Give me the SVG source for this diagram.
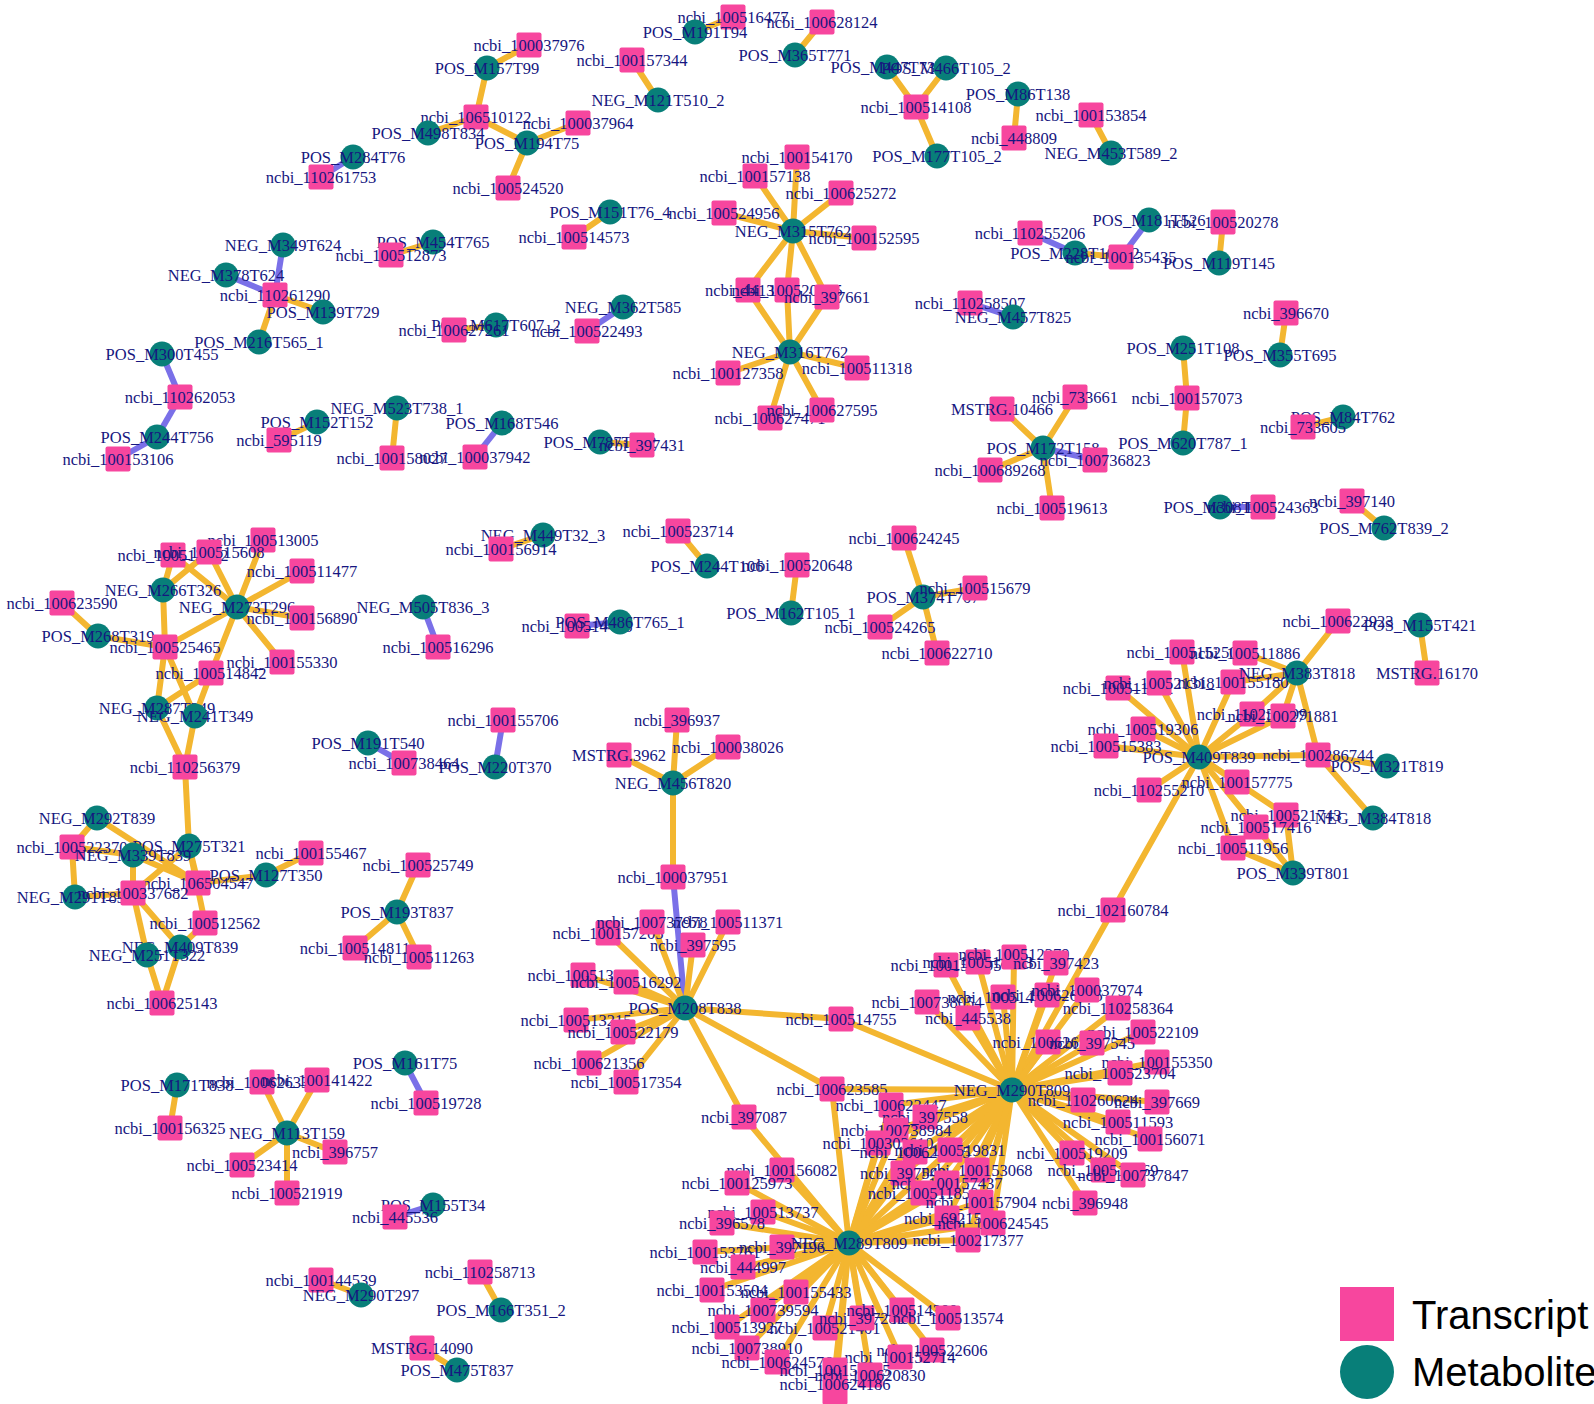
<svg xmlns="http://www.w3.org/2000/svg" xmlns:xlink="http://www.w3.org/1999/xlink" width="1594" height="1404" viewBox="0 0 1594 1404">
<style>
.eo{stroke:#F3B630;stroke-width:6;stroke-linecap:round}
.eb{stroke:#7A70E8;stroke-width:6;stroke-linecap:round}
text{font-family:"Liberation Serif","Times New Roman",serif;font-size:16.5px;fill:#161680;text-anchor:middle}
.lg{font-family:"Liberation Sans",Arial,sans-serif;font-size:40px;fill:#000;text-anchor:start}
</style>
<defs>
<rect id="sq" x="-12.5" y="-12.5" width="25" height="25" rx="2" fill="#F7469E"/>
<circle id="ci" r="12.5" fill="#087F79"/>
</defs>
<rect width="1594" height="1404" fill="#fff"/>
<g id="edges">
<line class="eb" x1="321" y1="177" x2="353" y2="157"/>
<line class="eb" x1="283" y1="245" x2="275" y2="295"/>
<line class="eb" x1="226" y1="275" x2="275" y2="295"/>
<line class="eb" x1="162" y1="354" x2="180" y2="397"/>
<line class="eb" x1="180" y1="397" x2="157" y2="437"/>
<line class="eb" x1="157" y1="437" x2="118" y2="459"/>
<line class="eb" x1="502" y1="423" x2="475" y2="457"/>
<line class="eb" x1="623" y1="307" x2="587" y2="331"/>
<line class="eb" x1="1030" y1="233" x2="1075" y2="253"/>
<line class="eb" x1="1121" y1="257" x2="1149" y2="220"/>
<line class="eb" x1="970" y1="303" x2="1013" y2="317"/>
<line class="eb" x1="1043" y1="448" x2="1095" y2="460"/>
<line class="eb" x1="1220" y1="507" x2="1263" y2="507"/>
<line class="eb" x1="423" y1="607" x2="438" y2="647"/>
<line class="eb" x1="577" y1="626" x2="620" y2="622"/>
<line class="eb" x1="368" y1="743" x2="404" y2="763"/>
<line class="eb" x1="503" y1="720" x2="495" y2="767"/>
<line class="eb" x1="673" y1="877" x2="685" y2="1008"/>
<line class="eb" x1="405" y1="1063" x2="426" y2="1103"/>
<line class="eb" x1="433" y1="1205" x2="395" y2="1217"/>
<line class="eo" x1="275" y1="295" x2="323" y2="312"/>
<line class="eo" x1="275" y1="295" x2="259" y2="342"/>
<line class="eo" x1="317" y1="422" x2="279" y2="440"/>
<line class="eo" x1="397" y1="408" x2="392" y2="458"/>
<line class="eo" x1="433" y1="242" x2="391" y2="255"/>
<line class="eo" x1="496" y1="325" x2="454" y2="330"/>
<line class="eo" x1="600" y1="442" x2="642" y2="445"/>
<line class="eo" x1="733" y1="17" x2="695" y2="32"/>
<line class="eo" x1="822" y1="22" x2="795" y2="55"/>
<line class="eo" x1="529" y1="45" x2="487" y2="68"/>
<line class="eo" x1="487" y1="68" x2="476" y2="117"/>
<line class="eo" x1="476" y1="117" x2="428" y2="133"/>
<line class="eo" x1="476" y1="117" x2="527" y2="143"/>
<line class="eo" x1="527" y1="143" x2="578" y2="123"/>
<line class="eo" x1="527" y1="143" x2="508" y2="188"/>
<line class="eo" x1="632" y1="60" x2="658" y2="100"/>
<line class="eo" x1="610" y1="212" x2="574" y2="237"/>
<line class="eo" x1="793" y1="231" x2="797" y2="157"/>
<line class="eo" x1="793" y1="231" x2="755" y2="176"/>
<line class="eo" x1="793" y1="231" x2="841" y2="193"/>
<line class="eo" x1="793" y1="231" x2="724" y2="213"/>
<line class="eo" x1="793" y1="231" x2="864" y2="238"/>
<line class="eo" x1="793" y1="231" x2="748" y2="290"/>
<line class="eo" x1="793" y1="231" x2="787" y2="290"/>
<line class="eo" x1="793" y1="231" x2="827" y2="297"/>
<line class="eo" x1="790" y1="352" x2="748" y2="290"/>
<line class="eo" x1="790" y1="352" x2="787" y2="290"/>
<line class="eo" x1="790" y1="352" x2="827" y2="297"/>
<line class="eo" x1="790" y1="352" x2="728" y2="373"/>
<line class="eo" x1="790" y1="352" x2="857" y2="368"/>
<line class="eo" x1="790" y1="352" x2="770" y2="418"/>
<line class="eo" x1="790" y1="352" x2="822" y2="410"/>
<line class="eo" x1="887" y1="67" x2="916" y2="107"/>
<line class="eo" x1="946" y1="68" x2="916" y2="107"/>
<line class="eo" x1="916" y1="107" x2="937" y2="156"/>
<line class="eo" x1="1018" y1="94" x2="1014" y2="138"/>
<line class="eo" x1="1091" y1="115" x2="1111" y2="153"/>
<line class="eo" x1="1075" y1="253" x2="1121" y2="257"/>
<line class="eo" x1="1223" y1="222" x2="1219" y2="263"/>
<line class="eo" x1="1183" y1="348" x2="1187" y2="398"/>
<line class="eo" x1="1187" y1="398" x2="1183" y2="443"/>
<line class="eo" x1="1286" y1="313" x2="1280" y2="355"/>
<line class="eo" x1="1343" y1="417" x2="1303" y2="427"/>
<line class="eo" x1="1043" y1="448" x2="1002" y2="409"/>
<line class="eo" x1="1043" y1="448" x2="1075" y2="397"/>
<line class="eo" x1="1043" y1="448" x2="990" y2="470"/>
<line class="eo" x1="1043" y1="448" x2="1052" y2="508"/>
<line class="eo" x1="1352" y1="501" x2="1384" y2="528"/>
<line class="eo" x1="1420" y1="625" x2="1427" y2="673"/>
<line class="eo" x1="1297" y1="673" x2="1338" y2="621"/>
<line class="eo" x1="1297" y1="673" x2="1245" y2="653"/>
<line class="eo" x1="1297" y1="673" x2="1233" y2="682"/>
<line class="eo" x1="1297" y1="673" x2="1252" y2="714"/>
<line class="eo" x1="1297" y1="673" x2="1283" y2="716"/>
<line class="eo" x1="1297" y1="673" x2="1318" y2="755"/>
<line class="eo" x1="1199" y1="757" x2="1182" y2="652"/>
<line class="eo" x1="1199" y1="757" x2="1159" y2="683"/>
<line class="eo" x1="1199" y1="757" x2="1118" y2="688"/>
<line class="eo" x1="1199" y1="757" x2="1143" y2="729"/>
<line class="eo" x1="1199" y1="757" x2="1106" y2="746"/>
<line class="eo" x1="1199" y1="757" x2="1149" y2="790"/>
<line class="eo" x1="1199" y1="757" x2="1237" y2="782"/>
<line class="eo" x1="1199" y1="757" x2="1286" y2="815"/>
<line class="eo" x1="1199" y1="757" x2="1256" y2="827"/>
<line class="eo" x1="1199" y1="757" x2="1233" y2="848"/>
<line class="eo" x1="1199" y1="757" x2="1318" y2="755"/>
<line class="eo" x1="1199" y1="757" x2="1233" y2="682"/>
<line class="eo" x1="1199" y1="757" x2="1252" y2="714"/>
<line class="eo" x1="1199" y1="757" x2="1283" y2="716"/>
<line class="eo" x1="1199" y1="757" x2="1113" y2="910"/>
<line class="eo" x1="1318" y1="755" x2="1387" y2="766"/>
<line class="eo" x1="1318" y1="755" x2="1373" y2="818"/>
<line class="eo" x1="1293" y1="873" x2="1286" y2="815"/>
<line class="eo" x1="1293" y1="873" x2="1256" y2="827"/>
<line class="eo" x1="1293" y1="873" x2="1233" y2="848"/>
<line class="eo" x1="1113" y1="910" x2="1012" y2="1090"/>
<line class="eo" x1="163" y1="590" x2="173" y2="555"/>
<line class="eo" x1="163" y1="590" x2="209" y2="552"/>
<line class="eo" x1="163" y1="590" x2="165" y2="647"/>
<line class="eo" x1="237" y1="607" x2="173" y2="555"/>
<line class="eo" x1="237" y1="607" x2="209" y2="552"/>
<line class="eo" x1="237" y1="607" x2="263" y2="540"/>
<line class="eo" x1="237" y1="607" x2="302" y2="571"/>
<line class="eo" x1="237" y1="607" x2="302" y2="618"/>
<line class="eo" x1="237" y1="607" x2="282" y2="662"/>
<line class="eo" x1="237" y1="607" x2="165" y2="647"/>
<line class="eo" x1="237" y1="607" x2="211" y2="673"/>
<line class="eo" x1="62" y1="603" x2="98" y2="636"/>
<line class="eo" x1="98" y1="636" x2="165" y2="647"/>
<line class="eo" x1="165" y1="647" x2="157" y2="708"/>
<line class="eo" x1="165" y1="647" x2="195" y2="716"/>
<line class="eo" x1="211" y1="673" x2="157" y2="708"/>
<line class="eo" x1="211" y1="673" x2="195" y2="716"/>
<line class="eo" x1="157" y1="708" x2="185" y2="767"/>
<line class="eo" x1="195" y1="716" x2="185" y2="767"/>
<line class="eo" x1="185" y1="767" x2="189" y2="846"/>
<line class="eo" x1="97" y1="818" x2="72" y2="847"/>
<line class="eo" x1="97" y1="818" x2="198" y2="883"/>
<line class="eo" x1="189" y1="846" x2="198" y2="883"/>
<line class="eo" x1="189" y1="846" x2="133" y2="893"/>
<line class="eo" x1="189" y1="846" x2="205" y2="923"/>
<line class="eo" x1="133" y1="855" x2="72" y2="847"/>
<line class="eo" x1="133" y1="855" x2="198" y2="883"/>
<line class="eo" x1="133" y1="855" x2="133" y2="893"/>
<line class="eo" x1="75" y1="897" x2="72" y2="847"/>
<line class="eo" x1="75" y1="897" x2="133" y2="893"/>
<line class="eo" x1="266" y1="875" x2="198" y2="883"/>
<line class="eo" x1="266" y1="875" x2="311" y2="853"/>
<line class="eo" x1="180" y1="947" x2="133" y2="893"/>
<line class="eo" x1="180" y1="947" x2="205" y2="923"/>
<line class="eo" x1="180" y1="947" x2="162" y2="1003"/>
<line class="eo" x1="147" y1="955" x2="133" y2="893"/>
<line class="eo" x1="147" y1="955" x2="162" y2="1003"/>
<line class="eo" x1="543" y1="535" x2="501" y2="549"/>
<line class="eo" x1="678" y1="531" x2="707" y2="566"/>
<line class="eo" x1="797" y1="565" x2="791" y2="613"/>
<line class="eo" x1="923" y1="597" x2="904" y2="538"/>
<line class="eo" x1="923" y1="597" x2="975" y2="588"/>
<line class="eo" x1="923" y1="597" x2="880" y2="627"/>
<line class="eo" x1="923" y1="597" x2="937" y2="653"/>
<line class="eo" x1="673" y1="783" x2="677" y2="720"/>
<line class="eo" x1="673" y1="783" x2="619" y2="755"/>
<line class="eo" x1="673" y1="783" x2="728" y2="747"/>
<line class="eo" x1="673" y1="783" x2="673" y2="877"/>
<line class="eo" x1="397" y1="912" x2="418" y2="865"/>
<line class="eo" x1="397" y1="912" x2="355" y2="948"/>
<line class="eo" x1="397" y1="912" x2="419" y2="957"/>
<line class="eo" x1="685" y1="1008" x2="608" y2="933"/>
<line class="eo" x1="685" y1="1008" x2="652" y2="922"/>
<line class="eo" x1="685" y1="1008" x2="728" y2="922"/>
<line class="eo" x1="685" y1="1008" x2="693" y2="945"/>
<line class="eo" x1="685" y1="1008" x2="583" y2="975"/>
<line class="eo" x1="685" y1="1008" x2="626" y2="982"/>
<line class="eo" x1="685" y1="1008" x2="576" y2="1020"/>
<line class="eo" x1="685" y1="1008" x2="623" y2="1032"/>
<line class="eo" x1="685" y1="1008" x2="589" y2="1063"/>
<line class="eo" x1="685" y1="1008" x2="626" y2="1082"/>
<line class="eo" x1="685" y1="1008" x2="744" y2="1117"/>
<line class="eo" x1="685" y1="1008" x2="841" y2="1019"/>
<line class="eo" x1="685" y1="1008" x2="832" y2="1089"/>
<line class="eo" x1="744" y1="1117" x2="849" y2="1243"/>
<line class="eo" x1="841" y1="1019" x2="1012" y2="1090"/>
<line class="eo" x1="832" y1="1089" x2="1012" y2="1090"/>
<line class="eo" x1="832" y1="1089" x2="849" y2="1243"/>
<line class="eo" x1="480" y1="1272" x2="501" y2="1310"/>
<line class="eo" x1="422" y1="1348" x2="457" y2="1370"/>
<line class="eo" x1="177" y1="1085" x2="170" y2="1128"/>
<line class="eo" x1="287" y1="1133" x2="262" y2="1082"/>
<line class="eo" x1="287" y1="1133" x2="317" y2="1080"/>
<line class="eo" x1="287" y1="1133" x2="335" y2="1152"/>
<line class="eo" x1="287" y1="1133" x2="242" y2="1165"/>
<line class="eo" x1="287" y1="1133" x2="287" y2="1193"/>
<line class="eo" x1="321" y1="1280" x2="361" y2="1295"/>
<g id="hub290">
<line class="eo" x1="1012" y1="1090" x2="946" y2="965"/>
<line class="eo" x1="1012" y1="1090" x2="978" y2="962"/>
<line class="eo" x1="1012" y1="1090" x2="1014" y2="957"/>
<line class="eo" x1="1012" y1="1090" x2="1056" y2="963"/>
<line class="eo" x1="1012" y1="1090" x2="927" y2="1002"/>
<line class="eo" x1="1012" y1="1090" x2="1003" y2="997"/>
<line class="eo" x1="1012" y1="1090" x2="1047" y2="995"/>
<line class="eo" x1="1012" y1="1090" x2="1087" y2="990"/>
<line class="eo" x1="1012" y1="1090" x2="968" y2="1018"/>
<line class="eo" x1="1012" y1="1090" x2="1118" y2="1008"/>
<line class="eo" x1="1012" y1="1090" x2="1143" y2="1032"/>
<line class="eo" x1="1012" y1="1090" x2="1048" y2="1042"/>
<line class="eo" x1="1012" y1="1090" x2="1092" y2="1043"/>
<line class="eo" x1="1012" y1="1090" x2="1157" y2="1062"/>
<line class="eo" x1="1012" y1="1090" x2="1120" y2="1073"/>
<line class="eo" x1="1012" y1="1090" x2="1083" y2="1100"/>
<line class="eo" x1="1012" y1="1090" x2="1157" y2="1102"/>
<line class="eo" x1="1012" y1="1090" x2="1118" y2="1122"/>
<line class="eo" x1="1012" y1="1090" x2="1150" y2="1139"/>
<line class="eo" x1="1012" y1="1090" x2="1072" y2="1153"/>
<line class="eo" x1="1012" y1="1090" x2="1103" y2="1170"/>
<line class="eo" x1="1012" y1="1090" x2="1133" y2="1175"/>
<line class="eo" x1="1012" y1="1090" x2="1085" y2="1203"/>
<line class="eo" x1="1012" y1="1090" x2="891" y2="1105"/>
<line class="eo" x1="1012" y1="1090" x2="925" y2="1117"/>
<line class="eo" x1="1012" y1="1090" x2="896" y2="1130"/>
<line class="eo" x1="1012" y1="1090" x2="878" y2="1143"/>
<line class="eo" x1="1012" y1="1090" x2="915" y2="1152"/>
<line class="eo" x1="1012" y1="1090" x2="950" y2="1150"/>
<line class="eo" x1="1012" y1="1090" x2="903" y2="1173"/>
<line class="eo" x1="1012" y1="1090" x2="977" y2="1170"/>
<line class="eo" x1="1012" y1="1090" x2="947" y2="1183"/>
<line class="eo" x1="1012" y1="1090" x2="923" y2="1193"/>
<line class="eo" x1="1012" y1="1090" x2="981" y2="1202"/>
<line class="eo" x1="1012" y1="1090" x2="947" y2="1218"/>
<line class="eo" x1="1012" y1="1090" x2="993" y2="1223"/>
<line class="eo" x1="1012" y1="1090" x2="968" y2="1240"/>
</g>
<g id="hub289">
<line class="eo" x1="849" y1="1243" x2="891" y2="1105"/>
<line class="eo" x1="849" y1="1243" x2="925" y2="1117"/>
<line class="eo" x1="849" y1="1243" x2="896" y2="1130"/>
<line class="eo" x1="849" y1="1243" x2="878" y2="1143"/>
<line class="eo" x1="849" y1="1243" x2="915" y2="1152"/>
<line class="eo" x1="849" y1="1243" x2="950" y2="1150"/>
<line class="eo" x1="849" y1="1243" x2="903" y2="1173"/>
<line class="eo" x1="849" y1="1243" x2="977" y2="1170"/>
<line class="eo" x1="849" y1="1243" x2="947" y2="1183"/>
<line class="eo" x1="849" y1="1243" x2="923" y2="1193"/>
<line class="eo" x1="849" y1="1243" x2="981" y2="1202"/>
<line class="eo" x1="849" y1="1243" x2="947" y2="1218"/>
<line class="eo" x1="849" y1="1243" x2="993" y2="1223"/>
<line class="eo" x1="849" y1="1243" x2="968" y2="1240"/>
<line class="eo" x1="849" y1="1243" x2="782" y2="1170"/>
<line class="eo" x1="849" y1="1243" x2="737" y2="1183"/>
<line class="eo" x1="849" y1="1243" x2="763" y2="1212"/>
<line class="eo" x1="849" y1="1243" x2="722" y2="1223"/>
<line class="eo" x1="849" y1="1243" x2="705" y2="1252"/>
<line class="eo" x1="849" y1="1243" x2="782" y2="1247"/>
<line class="eo" x1="849" y1="1243" x2="743" y2="1267"/>
<line class="eo" x1="849" y1="1243" x2="712" y2="1290"/>
<line class="eo" x1="849" y1="1243" x2="763" y2="1310"/>
<line class="eo" x1="849" y1="1243" x2="796" y2="1292"/>
<line class="eo" x1="849" y1="1243" x2="727" y2="1327"/>
<line class="eo" x1="849" y1="1243" x2="825" y2="1328"/>
<line class="eo" x1="849" y1="1243" x2="862" y2="1318"/>
<line class="eo" x1="849" y1="1243" x2="902" y2="1310"/>
<line class="eo" x1="849" y1="1243" x2="948" y2="1318"/>
<line class="eo" x1="849" y1="1243" x2="932" y2="1350"/>
<line class="eo" x1="849" y1="1243" x2="900" y2="1357"/>
<line class="eo" x1="849" y1="1243" x2="747" y2="1348"/>
<line class="eo" x1="849" y1="1243" x2="777" y2="1362"/>
<line class="eo" x1="849" y1="1243" x2="835" y2="1370"/>
<line class="eo" x1="849" y1="1243" x2="870" y2="1375"/>
<line class="eo" x1="849" y1="1243" x2="835" y2="1392"/>
</g>
</g>
<g id="nodes">
<g id="ncbi_110261753" transform="translate(321,177)"><use href="#sq"/><text y="6">ncbi_110261753</text></g>
<g id="POS_M284T76" transform="translate(353,157)"><use href="#ci"/><text y="6">POS_M284T76</text></g>
<g id="NEG_M349T624" transform="translate(283,245)"><use href="#ci"/><text y="6">NEG_M349T624</text></g>
<g id="NEG_M378T624" transform="translate(226,275)"><use href="#ci"/><text y="6">NEG_M378T624</text></g>
<g id="ncbi_110261290" transform="translate(275,295)"><use href="#sq"/><text y="6">ncbi_110261290</text></g>
<g id="POS_M139T729" transform="translate(323,312)"><use href="#ci"/><text y="6">POS_M139T729</text></g>
<g id="POS_M216T565_1" transform="translate(259,342)"><use href="#ci"/><text y="6">POS_M216T565_1</text></g>
<g id="POS_M300T455" transform="translate(162,354)"><use href="#ci"/><text y="6">POS_M300T455</text></g>
<g id="ncbi_110262053" transform="translate(180,397)"><use href="#sq"/><text y="6">ncbi_110262053</text></g>
<g id="POS_M244T756" transform="translate(157,437)"><use href="#ci"/><text y="6">POS_M244T756</text></g>
<g id="ncbi_100153106" transform="translate(118,459)"><use href="#sq"/><text y="6">ncbi_100153106</text></g>
<g id="POS_M152T152" transform="translate(317,422)"><use href="#ci"/><text y="6">POS_M152T152</text></g>
<g id="ncbi_595119" transform="translate(279,440)"><use href="#sq"/><text y="6">ncbi_595119</text></g>
<g id="NEG_M523T738_1" transform="translate(397,408)"><use href="#ci"/><text y="6">NEG_M523T738_1</text></g>
<g id="ncbi_100158027" transform="translate(392,458)"><use href="#sq"/><text y="6">ncbi_100158027</text></g>
<g id="POS_M168T546" transform="translate(502,423)"><use href="#ci"/><text y="6">POS_M168T546</text></g>
<g id="ncbi_100037942" transform="translate(475,457)"><use href="#sq"/><text y="6">ncbi_100037942</text></g>
<g id="POS_M454T765" transform="translate(433,242)"><use href="#ci"/><text y="6">POS_M454T765</text></g>
<g id="ncbi_100512873" transform="translate(391,255)"><use href="#sq"/><text y="6">ncbi_100512873</text></g>
<g id="POS_M617T607_2" transform="translate(496,325)"><use href="#ci"/><text y="6">POS_M617T607_2</text></g>
<g id="ncbi_100627261" transform="translate(454,330)"><use href="#sq"/><text y="6">ncbi_100627261</text></g>
<g id="NEG_M362T585" transform="translate(623,307)"><use href="#ci"/><text y="6">NEG_M362T585</text></g>
<g id="ncbi_100522493" transform="translate(587,331)"><use href="#sq"/><text y="6">ncbi_100522493</text></g>
<g id="POS_M787T852" transform="translate(600,442)"><use href="#ci"/><text y="6">POS_M787T852</text></g>
<g id="ncbi_397431" transform="translate(642,445)"><use href="#sq"/><text y="6">ncbi_397431</text></g>
<g id="ncbi_100516477" transform="translate(733,17)"><use href="#sq"/><text y="6">ncbi_100516477</text></g>
<g id="POS_M191T94" transform="translate(695,32)"><use href="#ci"/><text y="6">POS_M191T94</text></g>
<g id="ncbi_100628124" transform="translate(822,22)"><use href="#sq"/><text y="6">ncbi_100628124</text></g>
<g id="POS_M365T771" transform="translate(795,55)"><use href="#ci"/><text y="6">POS_M365T771</text></g>
<g id="ncbi_100037976" transform="translate(529,45)"><use href="#sq"/><text y="6">ncbi_100037976</text></g>
<g id="POS_M157T99" transform="translate(487,68)"><use href="#ci"/><text y="6">POS_M157T99</text></g>
<g id="ncbi_106510122" transform="translate(476,117)"><use href="#sq"/><text y="6">ncbi_106510122</text></g>
<g id="POS_M498T834" transform="translate(428,133)"><use href="#ci"/><text y="6">POS_M498T834</text></g>
<g id="POS_M194T75" transform="translate(527,143)"><use href="#ci"/><text y="6">POS_M194T75</text></g>
<g id="ncbi_100037964" transform="translate(578,123)"><use href="#sq"/><text y="6">ncbi_100037964</text></g>
<g id="ncbi_100524520" transform="translate(508,188)"><use href="#sq"/><text y="6">ncbi_100524520</text></g>
<g id="ncbi_100157344" transform="translate(632,60)"><use href="#sq"/><text y="6">ncbi_100157344</text></g>
<g id="NEG_M121T510_2" transform="translate(658,100)"><use href="#ci"/><text y="6">NEG_M121T510_2</text></g>
<g id="POS_M151T76_4" transform="translate(610,212)"><use href="#ci"/><text y="6">POS_M151T76_4</text></g>
<g id="ncbi_100514573" transform="translate(574,237)"><use href="#sq"/><text y="6">ncbi_100514573</text></g>
<g id="ncbi_100154170" transform="translate(797,157)"><use href="#sq"/><text y="6">ncbi_100154170</text></g>
<g id="ncbi_100157138" transform="translate(755,176)"><use href="#sq"/><text y="6">ncbi_100157138</text></g>
<g id="ncbi_100625272" transform="translate(841,193)"><use href="#sq"/><text y="6">ncbi_100625272</text></g>
<g id="ncbi_100524956" transform="translate(724,213)"><use href="#sq"/><text y="6">ncbi_100524956</text></g>
<g id="NEG_M315T762" transform="translate(793,231)"><use href="#ci"/><text y="6">NEG_M315T762</text></g>
<g id="ncbi_100152595" transform="translate(864,238)"><use href="#sq"/><text y="6">ncbi_100152595</text></g>
<g id="ncbi_441366" transform="translate(748,290)"><use href="#sq"/><text y="6">ncbi_441366</text></g>
<g id="ncbi_100520045" transform="translate(787,290)"><use href="#sq"/><text y="6">ncbi_100520045</text></g>
<g id="ncbi_397661" transform="translate(827,297)"><use href="#sq"/><text y="6">ncbi_397661</text></g>
<g id="NEG_M316T762" transform="translate(790,352)"><use href="#ci"/><text y="6">NEG_M316T762</text></g>
<g id="ncbi_100127358" transform="translate(728,373)"><use href="#sq"/><text y="6">ncbi_100127358</text></g>
<g id="ncbi_100511318" transform="translate(857,368)"><use href="#sq"/><text y="6">ncbi_100511318</text></g>
<g id="ncbi_100627471" transform="translate(770,418)"><use href="#sq"/><text y="6">ncbi_100627471</text></g>
<g id="ncbi_100627595" transform="translate(822,410)"><use href="#sq"/><text y="6">ncbi_100627595</text></g>
<g id="POS_M447T736" transform="translate(887,67)"><use href="#ci"/><text y="6">POS_M447T736</text></g>
<g id="POS_M466T105_2" transform="translate(946,68)"><use href="#ci"/><text y="6">POS_M466T105_2</text></g>
<g id="ncbi_100514108" transform="translate(916,107)"><use href="#sq"/><text y="6">ncbi_100514108</text></g>
<g id="POS_M177T105_2" transform="translate(937,156)"><use href="#ci"/><text y="6">POS_M177T105_2</text></g>
<g id="POS_M86T138" transform="translate(1018,94)"><use href="#ci"/><text y="6">POS_M86T138</text></g>
<g id="ncbi_448809" transform="translate(1014,138)"><use href="#sq"/><text y="6">ncbi_448809</text></g>
<g id="ncbi_100153854" transform="translate(1091,115)"><use href="#sq"/><text y="6">ncbi_100153854</text></g>
<g id="NEG_M453T589_2" transform="translate(1111,153)"><use href="#ci"/><text y="6">NEG_M453T589_2</text></g>
<g id="ncbi_110255206" transform="translate(1030,233)"><use href="#sq"/><text y="6">ncbi_110255206</text></g>
<g id="POS_M228T105_2" transform="translate(1075,253)"><use href="#ci"/><text y="6">POS_M228T105_2</text></g>
<g id="ncbi_100135435" transform="translate(1121,257)"><use href="#sq"/><text y="6">ncbi_100135435</text></g>
<g id="POS_M181T526" transform="translate(1149,220)"><use href="#ci"/><text y="6">POS_M181T526</text></g>
<g id="ncbi_100520278" transform="translate(1223,222)"><use href="#sq"/><text y="6">ncbi_100520278</text></g>
<g id="POS_M119T145" transform="translate(1219,263)"><use href="#ci"/><text y="6">POS_M119T145</text></g>
<g id="ncbi_110258507" transform="translate(970,303)"><use href="#sq"/><text y="6">ncbi_110258507</text></g>
<g id="NEG_M457T825" transform="translate(1013,317)"><use href="#ci"/><text y="6">NEG_M457T825</text></g>
<g id="POS_M251T108" transform="translate(1183,348)"><use href="#ci"/><text y="6">POS_M251T108</text></g>
<g id="ncbi_100157073" transform="translate(1187,398)"><use href="#sq"/><text y="6">ncbi_100157073</text></g>
<g id="POS_M620T787_1" transform="translate(1183,443)"><use href="#ci"/><text y="6">POS_M620T787_1</text></g>
<g id="ncbi_396670" transform="translate(1286,313)"><use href="#sq"/><text y="6">ncbi_396670</text></g>
<g id="POS_M355T695" transform="translate(1280,355)"><use href="#ci"/><text y="6">POS_M355T695</text></g>
<g id="POS_M84T762" transform="translate(1343,417)"><use href="#ci"/><text y="6">POS_M84T762</text></g>
<g id="ncbi_733605" transform="translate(1303,427)"><use href="#sq"/><text y="6">ncbi_733605</text></g>
<g id="MSTRG.10466" transform="translate(1002,409)"><use href="#sq"/><text y="6">MSTRG.10466</text></g>
<g id="ncbi_733661" transform="translate(1075,397)"><use href="#sq"/><text y="6">ncbi_733661</text></g>
<g id="POS_M172T158" transform="translate(1043,448)"><use href="#ci"/><text y="6">POS_M172T158</text></g>
<g id="ncbi_100736823" transform="translate(1095,460)"><use href="#sq"/><text y="6">ncbi_100736823</text></g>
<g id="ncbi_100689268" transform="translate(990,470)"><use href="#sq"/><text y="6">ncbi_100689268</text></g>
<g id="ncbi_100519613" transform="translate(1052,508)"><use href="#sq"/><text y="6">ncbi_100519613</text></g>
<g id="POS_M308T685" transform="translate(1220,507)"><use href="#ci"/><text y="6">POS_M308T685</text></g>
<g id="ncbi_100524363" transform="translate(1263,507)"><use href="#sq"/><text y="6">ncbi_100524363</text></g>
<g id="ncbi_397140" transform="translate(1352,501)"><use href="#sq"/><text y="6">ncbi_397140</text></g>
<g id="POS_M762T839_2" transform="translate(1384,528)"><use href="#ci"/><text y="6">POS_M762T839_2</text></g>
<g id="ncbi_100622923" transform="translate(1338,621)"><use href="#sq"/><text y="6">ncbi_100622923</text></g>
<g id="POS_M155T421" transform="translate(1420,625)"><use href="#ci"/><text y="6">POS_M155T421</text></g>
<g id="MSTRG.16170" transform="translate(1427,673)"><use href="#sq"/><text y="6">MSTRG.16170</text></g>
<g id="ncbi_100515250" transform="translate(1182,652)"><use href="#sq"/><text y="6">ncbi_100515250</text></g>
<g id="ncbi_100511886" transform="translate(1245,653)"><use href="#sq"/><text y="6">ncbi_100511886</text></g>
<g id="ncbi_100511292" transform="translate(1118,688)"><use href="#sq"/><text y="6">ncbi_100511292</text></g>
<g id="ncbi_100521318" transform="translate(1159,683)"><use href="#sq"/><text y="6">ncbi_100521318</text></g>
<g id="ncbi_100155180" transform="translate(1233,682)"><use href="#sq"/><text y="6">ncbi_100155180</text></g>
<g id="NEG_M383T818" transform="translate(1297,673)"><use href="#ci"/><text y="6">NEG_M383T818</text></g>
<g id="ncbi_110256999" transform="translate(1252,714)"><use href="#sq"/><text y="6">ncbi_110256999</text></g>
<g id="ncbi_100271881" transform="translate(1283,716)"><use href="#sq"/><text y="6">ncbi_100271881</text></g>
<g id="ncbi_100519306" transform="translate(1143,729)"><use href="#sq"/><text y="6">ncbi_100519306</text></g>
<g id="ncbi_100515383" transform="translate(1106,746)"><use href="#sq"/><text y="6">ncbi_100515383</text></g>
<g id="POS_M409T839" transform="translate(1199,757)"><use href="#ci"/><text y="6">POS_M409T839</text></g>
<g id="ncbi_100286744" transform="translate(1318,755)"><use href="#sq"/><text y="6">ncbi_100286744</text></g>
<g id="POS_M321T819" transform="translate(1387,766)"><use href="#ci"/><text y="6">POS_M321T819</text></g>
<g id="ncbi_110255210" transform="translate(1149,790)"><use href="#sq"/><text y="6">ncbi_110255210</text></g>
<g id="ncbi_100157775" transform="translate(1237,782)"><use href="#sq"/><text y="6">ncbi_100157775</text></g>
<g id="ncbi_100521743" transform="translate(1286,815)"><use href="#sq"/><text y="6">ncbi_100521743</text></g>
<g id="ncbi_100517416" transform="translate(1256,827)"><use href="#sq"/><text y="6">ncbi_100517416</text></g>
<g id="NEG_M384T818" transform="translate(1373,818)"><use href="#ci"/><text y="6">NEG_M384T818</text></g>
<g id="ncbi_100511956" transform="translate(1233,848)"><use href="#sq"/><text y="6">ncbi_100511956</text></g>
<g id="POS_M339T801" transform="translate(1293,873)"><use href="#ci"/><text y="6">POS_M339T801</text></g>
<g id="ncbi_102160784" transform="translate(1113,910)"><use href="#sq"/><text y="6">ncbi_102160784</text></g>
<g id="ncbi_100513005" transform="translate(263,540)"><use href="#sq"/><text y="6">ncbi_100513005</text></g>
<g id="ncbi_100513982" transform="translate(173,555)"><use href="#sq"/><text y="6">ncbi_100513982</text></g>
<g id="ncbi_100515608" transform="translate(209,552)"><use href="#sq"/><text y="6">ncbi_100515608</text></g>
<g id="ncbi_100511477" transform="translate(302,571)"><use href="#sq"/><text y="6">ncbi_100511477</text></g>
<g id="NEG_M266T326" transform="translate(163,590)"><use href="#ci"/><text y="6">NEG_M266T326</text></g>
<g id="NEG_M273T296" transform="translate(237,607)"><use href="#ci"/><text y="6">NEG_M273T296</text></g>
<g id="ncbi_100623590" transform="translate(62,603)"><use href="#sq"/><text y="6">ncbi_100623590</text></g>
<g id="ncbi_100156890" transform="translate(302,618)"><use href="#sq"/><text y="6">ncbi_100156890</text></g>
<g id="POS_M268T319" transform="translate(98,636)"><use href="#ci"/><text y="6">POS_M268T319</text></g>
<g id="ncbi_100525465" transform="translate(165,647)"><use href="#sq"/><text y="6">ncbi_100525465</text></g>
<g id="ncbi_100155330" transform="translate(282,662)"><use href="#sq"/><text y="6">ncbi_100155330</text></g>
<g id="ncbi_100514842" transform="translate(211,673)"><use href="#sq"/><text y="6">ncbi_100514842</text></g>
<g id="NEG_M287T349" transform="translate(157,708)"><use href="#ci"/><text y="6">NEG_M287T349</text></g>
<g id="NEG_M241T349" transform="translate(195,716)"><use href="#ci"/><text y="6">NEG_M241T349</text></g>
<g id="ncbi_110256379" transform="translate(185,767)"><use href="#sq"/><text y="6">ncbi_110256379</text></g>
<g id="NEG_M292T839" transform="translate(97,818)"><use href="#ci"/><text y="6">NEG_M292T839</text></g>
<g id="ncbi_100522370" transform="translate(72,847)"><use href="#sq"/><text y="6">ncbi_100522370</text></g>
<g id="POS_M275T321" transform="translate(189,846)"><use href="#ci"/><text y="6">POS_M275T321</text></g>
<g id="NEG_M339T839" transform="translate(133,855)"><use href="#ci"/><text y="6">NEG_M339T839</text></g>
<g id="ncbi_100155467" transform="translate(311,853)"><use href="#sq"/><text y="6">ncbi_100155467</text></g>
<g id="ncbi_106504547" transform="translate(198,883)"><use href="#sq"/><text y="6">ncbi_106504547</text></g>
<g id="POS_M127T350" transform="translate(266,875)"><use href="#ci"/><text y="6">POS_M127T350</text></g>
<g id="NEG_M291T839" transform="translate(75,897)"><use href="#ci"/><text y="6">NEG_M291T839</text></g>
<g id="ncbi_100337682" transform="translate(133,893)"><use href="#sq"/><text y="6">ncbi_100337682</text></g>
<g id="ncbi_100512562" transform="translate(205,923)"><use href="#sq"/><text y="6">ncbi_100512562</text></g>
<g id="NEG_M409T839" transform="translate(180,947)"><use href="#ci"/><text y="6">NEG_M409T839</text></g>
<g id="NEG_M251T322" transform="translate(147,955)"><use href="#ci"/><text y="6">NEG_M251T322</text></g>
<g id="ncbi_100625143" transform="translate(162,1003)"><use href="#sq"/><text y="6">ncbi_100625143</text></g>
<g id="NEG_M449T32_3" transform="translate(543,535)"><use href="#ci"/><text y="6">NEG_M449T32_3</text></g>
<g id="ncbi_100156914" transform="translate(501,549)"><use href="#sq"/><text y="6">ncbi_100156914</text></g>
<g id="ncbi_100523714" transform="translate(678,531)"><use href="#sq"/><text y="6">ncbi_100523714</text></g>
<g id="POS_M244T106" transform="translate(707,566)"><use href="#ci"/><text y="6">POS_M244T106</text></g>
<g id="ncbi_100520648" transform="translate(797,565)"><use href="#sq"/><text y="6">ncbi_100520648</text></g>
<g id="POS_M162T105_1" transform="translate(791,613)"><use href="#ci"/><text y="6">POS_M162T105_1</text></g>
<g id="NEG_M505T836_3" transform="translate(423,607)"><use href="#ci"/><text y="6">NEG_M505T836_3</text></g>
<g id="ncbi_100516296" transform="translate(438,647)"><use href="#sq"/><text y="6">ncbi_100516296</text></g>
<g id="ncbi_100514495" transform="translate(577,626)"><use href="#sq"/><text y="6">ncbi_100514495</text></g>
<g id="POS_M486T765_1" transform="translate(620,622)"><use href="#ci"/><text y="6">POS_M486T765_1</text></g>
<g id="ncbi_100624245" transform="translate(904,538)"><use href="#sq"/><text y="6">ncbi_100624245</text></g>
<g id="POS_M374T707" transform="translate(923,597)"><use href="#ci"/><text y="6">POS_M374T707</text></g>
<g id="ncbi_100515679" transform="translate(975,588)"><use href="#sq"/><text y="6">ncbi_100515679</text></g>
<g id="ncbi_100524265" transform="translate(880,627)"><use href="#sq"/><text y="6">ncbi_100524265</text></g>
<g id="ncbi_100622710" transform="translate(937,653)"><use href="#sq"/><text y="6">ncbi_100622710</text></g>
<g id="POS_M191T540" transform="translate(368,743)"><use href="#ci"/><text y="6">POS_M191T540</text></g>
<g id="ncbi_100738464" transform="translate(404,763)"><use href="#sq"/><text y="6">ncbi_100738464</text></g>
<g id="ncbi_100155706" transform="translate(503,720)"><use href="#sq"/><text y="6">ncbi_100155706</text></g>
<g id="POS_M220T370" transform="translate(495,767)"><use href="#ci"/><text y="6">POS_M220T370</text></g>
<g id="ncbi_396937" transform="translate(677,720)"><use href="#sq"/><text y="6">ncbi_396937</text></g>
<g id="MSTRG.3962" transform="translate(619,755)"><use href="#sq"/><text y="6">MSTRG.3962</text></g>
<g id="ncbi_100038026" transform="translate(728,747)"><use href="#sq"/><text y="6">ncbi_100038026</text></g>
<g id="NEG_M456T820" transform="translate(673,783)"><use href="#ci"/><text y="6">NEG_M456T820</text></g>
<g id="ncbi_100037951" transform="translate(673,877)"><use href="#sq"/><text y="6">ncbi_100037951</text></g>
<g id="ncbi_100525749" transform="translate(418,865)"><use href="#sq"/><text y="6">ncbi_100525749</text></g>
<g id="POS_M193T837" transform="translate(397,912)"><use href="#ci"/><text y="6">POS_M193T837</text></g>
<g id="ncbi_100514811" transform="translate(355,948)"><use href="#sq"/><text y="6">ncbi_100514811</text></g>
<g id="ncbi_100511263" transform="translate(419,957)"><use href="#sq"/><text y="6">ncbi_100511263</text></g>
<g id="ncbi_100157205" transform="translate(608,933)"><use href="#sq"/><text y="6">ncbi_100157205</text></g>
<g id="ncbi_100737978" transform="translate(652,922)"><use href="#sq"/><text y="6">ncbi_100737978</text></g>
<g id="ncbi_100511371" transform="translate(728,922)"><use href="#sq"/><text y="6">ncbi_100511371</text></g>
<g id="ncbi_397595" transform="translate(693,945)"><use href="#sq"/><text y="6">ncbi_397595</text></g>
<g id="ncbi_100513662" transform="translate(583,975)"><use href="#sq"/><text y="6">ncbi_100513662</text></g>
<g id="ncbi_100516292" transform="translate(626,982)"><use href="#sq"/><text y="6">ncbi_100516292</text></g>
<g id="ncbi_100513215" transform="translate(576,1020)"><use href="#sq"/><text y="6">ncbi_100513215</text></g>
<g id="ncbi_100522179" transform="translate(623,1032)"><use href="#sq"/><text y="6">ncbi_100522179</text></g>
<g id="ncbi_100621356" transform="translate(589,1063)"><use href="#sq"/><text y="6">ncbi_100621356</text></g>
<g id="ncbi_100517354" transform="translate(626,1082)"><use href="#sq"/><text y="6">ncbi_100517354</text></g>
<g id="POS_M208T838" transform="translate(685,1008)"><use href="#ci"/><text y="6">POS_M208T838</text></g>
<g id="ncbi_397087" transform="translate(744,1117)"><use href="#sq"/><text y="6">ncbi_397087</text></g>
<g id="ncbi_100514755" transform="translate(841,1019)"><use href="#sq"/><text y="6">ncbi_100514755</text></g>
<g id="ncbi_100623585" transform="translate(832,1089)"><use href="#sq"/><text y="6">ncbi_100623585</text></g>
<g id="POS_M161T75" transform="translate(405,1063)"><use href="#ci"/><text y="6">POS_M161T75</text></g>
<g id="ncbi_100519728" transform="translate(426,1103)"><use href="#sq"/><text y="6">ncbi_100519728</text></g>
<g id="POS_M155T34" transform="translate(433,1205)"><use href="#ci"/><text y="6">POS_M155T34</text></g>
<g id="ncbi_445536" transform="translate(395,1217)"><use href="#sq"/><text y="6">ncbi_445536</text></g>
<g id="ncbi_110258713" transform="translate(480,1272)"><use href="#sq"/><text y="6">ncbi_110258713</text></g>
<g id="POS_M166T351_2" transform="translate(501,1310)"><use href="#ci"/><text y="6">POS_M166T351_2</text></g>
<g id="MSTRG.14090" transform="translate(422,1348)"><use href="#sq"/><text y="6">MSTRG.14090</text></g>
<g id="POS_M475T837" transform="translate(457,1370)"><use href="#ci"/><text y="6">POS_M475T837</text></g>
<g id="POS_M171T838" transform="translate(177,1085)"><use href="#ci"/><text y="6">POS_M171T838</text></g>
<g id="ncbi_100156325" transform="translate(170,1128)"><use href="#sq"/><text y="6">ncbi_100156325</text></g>
<g id="ncbi_100626338" transform="translate(262,1082)"><use href="#sq"/><text y="6">ncbi_100626338</text></g>
<g id="ncbi_100141422" transform="translate(317,1080)"><use href="#sq"/><text y="6">ncbi_100141422</text></g>
<g id="NEG_M113T159" transform="translate(287,1133)"><use href="#ci"/><text y="6">NEG_M113T159</text></g>
<g id="ncbi_396757" transform="translate(335,1152)"><use href="#sq"/><text y="6">ncbi_396757</text></g>
<g id="ncbi_100523414" transform="translate(242,1165)"><use href="#sq"/><text y="6">ncbi_100523414</text></g>
<g id="ncbi_100521919" transform="translate(287,1193)"><use href="#sq"/><text y="6">ncbi_100521919</text></g>
<g id="ncbi_100144539" transform="translate(321,1280)"><use href="#sq"/><text y="6">ncbi_100144539</text></g>
<g id="NEG_M290T297" transform="translate(361,1295)"><use href="#ci"/><text y="6">NEG_M290T297</text></g>
<g id="ncbi_100153595" transform="translate(946,965)"><use href="#sq"/><text y="6">ncbi_100153595</text></g>
<g id="ncbi_100518863" transform="translate(978,962)"><use href="#sq"/><text y="6">ncbi_100518863</text></g>
<g id="ncbi_100512379" transform="translate(1014,957)"><use href="#sq"/><text y="3">ncbi_100512379</text></g>
<g id="ncbi_397423" transform="translate(1056,963)"><use href="#sq"/><text y="6">ncbi_397423</text></g>
<g id="ncbi_100738054" transform="translate(927,1002)"><use href="#sq"/><text y="6">ncbi_100738054</text></g>
<g id="ncbi_100514790" transform="translate(1003,997)"><use href="#sq"/><text y="6">ncbi_100514790</text></g>
<g id="ncbi_100626886" transform="translate(1047,995)"><use href="#sq"/><text y="6">ncbi_100626886</text></g>
<g id="ncbi_100037974" transform="translate(1087,990)"><use href="#sq"/><text y="6">ncbi_100037974</text></g>
<g id="ncbi_445538" transform="translate(968,1018)"><use href="#sq"/><text y="6">ncbi_445538</text></g>
<g id="ncbi_110258364" transform="translate(1118,1008)"><use href="#sq"/><text y="6">ncbi_110258364</text></g>
<g id="ncbi_100522109" transform="translate(1143,1032)"><use href="#sq"/><text y="6">ncbi_100522109</text></g>
<g id="ncbi_100626598" transform="translate(1048,1042)"><use href="#sq"/><text y="6">ncbi_100626598</text></g>
<g id="ncbi_397545" transform="translate(1092,1043)"><use href="#sq"/><text y="6">ncbi_397545</text></g>
<g id="ncbi_100155350" transform="translate(1157,1062)"><use href="#sq"/><text y="6">ncbi_100155350</text></g>
<g id="ncbi_100523704" transform="translate(1120,1073)"><use href="#sq"/><text y="6">ncbi_100523704</text></g>
<g id="ncbi_110260624" transform="translate(1083,1100)"><use href="#sq"/><text y="6">ncbi_110260624</text></g>
<g id="ncbi_397669" transform="translate(1157,1102)"><use href="#sq"/><text y="6">ncbi_397669</text></g>
<g id="ncbi_100511593" transform="translate(1118,1122)"><use href="#sq"/><text y="6">ncbi_100511593</text></g>
<g id="ncbi_100156071" transform="translate(1150,1139)"><use href="#sq"/><text y="6">ncbi_100156071</text></g>
<g id="ncbi_100519209" transform="translate(1072,1153)"><use href="#sq"/><text y="6">ncbi_100519209</text></g>
<g id="ncbi_100513969" transform="translate(1103,1170)"><use href="#sq"/><text y="6">ncbi_100513969</text></g>
<g id="ncbi_100737847" transform="translate(1133,1175)"><use href="#sq"/><text y="6">ncbi_100737847</text></g>
<g id="ncbi_396948" transform="translate(1085,1203)"><use href="#sq"/><text y="6">ncbi_396948</text></g>
<g id="ncbi_100623447" transform="translate(891,1105)"><use href="#sq"/><text y="6">ncbi_100623447</text></g>
<g id="ncbi_397558" transform="translate(925,1117)"><use href="#sq"/><text y="6">ncbi_397558</text></g>
<g id="ncbi_100738984" transform="translate(896,1130)"><use href="#sq"/><text y="6">ncbi_100738984</text></g>
<g id="ncbi_100303610" transform="translate(878,1143)"><use href="#sq"/><text y="6">ncbi_100303610</text></g>
<g id="ncbi_100622355" transform="translate(915,1152)"><use href="#sq"/><text y="6">ncbi_100622355</text></g>
<g id="ncbi_100519831" transform="translate(950,1150)"><use href="#sq"/><text y="6">ncbi_100519831</text></g>
<g id="ncbi_397548" transform="translate(903,1173)"><use href="#sq"/><text y="6">ncbi_397548</text></g>
<g id="ncbi_100153068" transform="translate(977,1170)"><use href="#sq"/><text y="6">ncbi_100153068</text></g>
<g id="ncbi_100157437" transform="translate(947,1183)"><use href="#sq"/><text y="6">ncbi_100157437</text></g>
<g id="ncbi_100511858" transform="translate(923,1193)"><use href="#sq"/><text y="6">ncbi_100511858</text></g>
<g id="ncbi_100157904" transform="translate(981,1202)"><use href="#sq"/><text y="6">ncbi_100157904</text></g>
<g id="ncbi_692156" transform="translate(947,1218)"><use href="#sq"/><text y="6">ncbi_692156</text></g>
<g id="ncbi_100624545" transform="translate(993,1223)"><use href="#sq"/><text y="6">ncbi_100624545</text></g>
<g id="ncbi_100217377" transform="translate(968,1240)"><use href="#sq"/><text y="6">ncbi_100217377</text></g>
<g id="NEG_M290T809" transform="translate(1012,1090)"><use href="#ci"/><text y="6">NEG_M290T809</text></g>
<g id="ncbi_100156082" transform="translate(782,1170)"><use href="#sq"/><text y="6">ncbi_100156082</text></g>
<g id="ncbi_100125973" transform="translate(737,1183)"><use href="#sq"/><text y="6">ncbi_100125973</text></g>
<g id="ncbi_100513737" transform="translate(763,1212)"><use href="#sq"/><text y="6">ncbi_100513737</text></g>
<g id="ncbi_396578" transform="translate(722,1223)"><use href="#sq"/><text y="6">ncbi_396578</text></g>
<g id="ncbi_100153761" transform="translate(705,1252)"><use href="#sq"/><text y="6">ncbi_100153761</text></g>
<g id="ncbi_397196" transform="translate(782,1247)"><use href="#sq"/><text y="6">ncbi_397196</text></g>
<g id="ncbi_444997" transform="translate(743,1267)"><use href="#sq"/><text y="6">ncbi_444997</text></g>
<g id="ncbi_100153504" transform="translate(712,1290)"><use href="#sq"/><text y="6">ncbi_100153504</text></g>
<g id="ncbi_100739594" transform="translate(763,1310)"><use href="#sq"/><text y="6">ncbi_100739594</text></g>
<g id="ncbi_100155433" transform="translate(796,1292)"><use href="#sq"/><text y="6">ncbi_100155433</text></g>
<g id="ncbi_100513927" transform="translate(727,1327)"><use href="#sq"/><text y="6">ncbi_100513927</text></g>
<g id="ncbi_100521401" transform="translate(825,1328)"><use href="#sq"/><text y="6">ncbi_100521401</text></g>
<g id="ncbi_397280" transform="translate(862,1318)"><use href="#sq"/><text y="6">ncbi_397280</text></g>
<g id="ncbi_100514300" transform="translate(902,1310)"><use href="#sq"/><text y="6">ncbi_100514300</text></g>
<g id="ncbi_100513574" transform="translate(948,1318)"><use href="#sq"/><text y="6">ncbi_100513574</text></g>
<g id="ncbi_100522606" transform="translate(932,1350)"><use href="#sq"/><text y="6">ncbi_100522606</text></g>
<g id="ncbi_100152714" transform="translate(900,1357)"><use href="#sq"/><text y="6">ncbi_100152714</text></g>
<g id="ncbi_100738910" transform="translate(747,1348)"><use href="#sq"/><text y="6">ncbi_100738910</text></g>
<g id="ncbi_100624576" transform="translate(777,1362)"><use href="#sq"/><text y="6">ncbi_100624576</text></g>
<g id="ncbi_100154035" transform="translate(835,1370)"><use href="#sq"/><text y="6">ncbi_100154035</text></g>
<g id="ncbi_100620830" transform="translate(870,1375)"><use href="#sq"/><text y="6">ncbi_100620830</text></g>
<g id="ncbi_100624186" transform="translate(835,1392)"><use href="#sq"/><text y="-2">ncbi_100624186</text></g>
<g id="NEG_M289T809" transform="translate(849,1243)"><use href="#ci"/><text y="6">NEG_M289T809</text></g>
</g>
<g id="legend">
<rect x="1340" y="1287" width="54" height="54" fill="#F7469E"/>
<circle cx="1367" cy="1372" r="27" fill="#087F79"/>
<text class="lg" x="1412" y="1329">Transcript</text>
<text class="lg" x="1412" y="1386">Metabolite</text>
</g>
</svg>
